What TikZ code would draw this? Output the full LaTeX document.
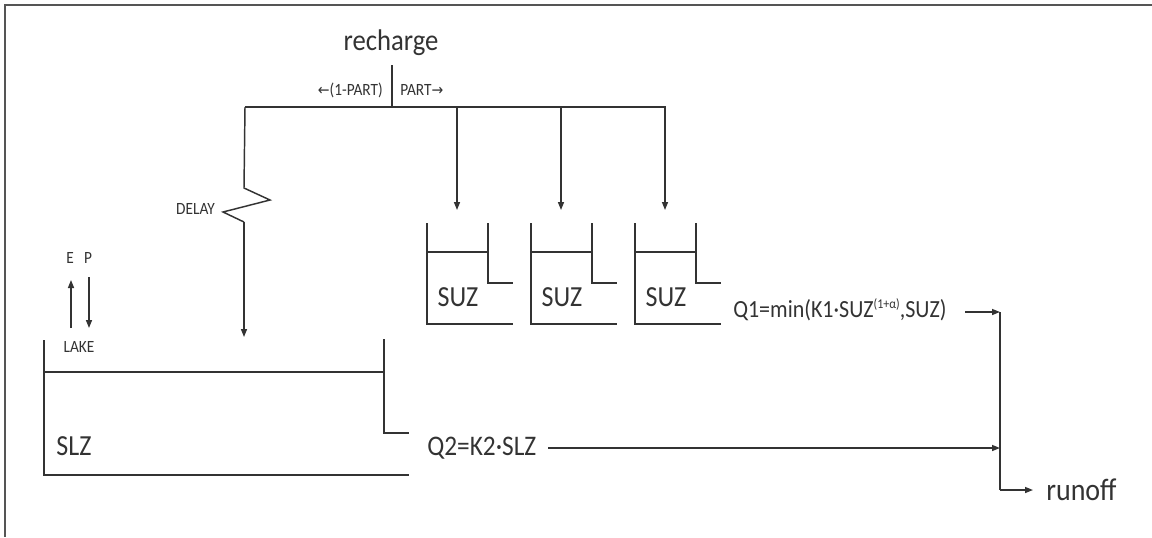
\documentclass[tikz,border=0pt]{standalone}
\usepackage{graphicx}
\usepackage{fontspec}
\setmainfont{Carlito}
\newfontfamily\arrowfont{DejaVu Sans}
\usetikzlibrary{arrows.meta}
\definecolor{ink}{HTML}{333333}
\definecolor{framec}{HTML}{555555}
\newcommand{\vstr}[1]{\scalebox{1}[1.12]{#1}}
\begin{document}
\begin{tikzpicture}[x=0.75pt,y=-0.75pt,
  line/.style={draw=ink,line width=1.1pt},
  arr/.style={line,-{Triangle[length=6pt,width=4.5pt]}},
  txt/.style={text=ink,inner sep=0pt},
  big/.style={txt,font=\fontsize{19.5}{21}\selectfont},
  mid/.style={txt,font=\fontsize{16.5}{18}\selectfont},
  small/.style={txt,font=\fontsize{11.5}{12}\selectfont}]
\useasboundingbox (0,0) rectangle (1152,537);
\draw[draw=framec,line width=1.5pt] (1152,5) -- (5,5) -- (5,537);

% recharge and split
\node[big,font=\fontsize{20}{22}\selectfont] (rech) at (391,43) {\vstr{recharge}};
\coordinate (rs) at (392,65);
\coordinate (rj) at (392,107);
\coordinate (lj) at (245,107);
\coordinate (ej) at (666,107);
\draw[line] (rs) -- (rj);
\draw[line] (lj) -- (ej);
\node[small,anchor=east] (lpart) at (383,90) {\vstr{{\arrowfont\fontsize{10.5}{11}\selectfont ←}(1-PART)}};
\node[small,anchor=west] (rpart) at (400,90) {\vstr{PART{\arrowfont\fontsize{10.5}{11}\selectfont →}}};

% delay branch
\coordinate (z1) at (244,188);
\coordinate (z2) at (270,200);
\coordinate (z3) at (223,212);
\coordinate (z4) at (244,222);
\coordinate (dend) at (244,337);
\draw[line] (lj) -- (z1) -- (z2) -- (z3) -- (z4);
\draw[arr] (z4) -- (dend);
\node[small,anchor=east] (delay) at (215,209) {\vstr{DELAY}};

% SUZ tanks
\foreach \i/\L in {1/427,2/531,3/635}{
  \coordinate (in\i) at (\L+30,107);
  \coordinate (tt\i) at (\L+30,210);
  \draw[arr] (in\i) -- (tt\i);
  \draw[line] (\L,223) -- (\L,324) -- (\L+86,324);
  \draw[line] (\L,252) -- (\L+61,252);
  \draw[line] (\L+61,223) -- (\L+61,283) -- (\L+86,283);
  \node[big] (suz\i) at (\L+31,297) {\vstr{SUZ}};
}

% Q1
\node[mid,anchor=west] (q1) at (733,310) {\vstr{Q1=min(K1·SUZ\raisebox{0.75ex}{\fontsize{9}{10}\selectfont(1+α)},SUZ)}};
\coordinate (q1s) at (965,312);
\coordinate (j1) at (1000,312);
\coordinate (j2) at (1000,448);
\coordinate (j3) at (1000,490);
\coordinate (rt) at (1033,490);
\draw[arr] (q1s) -- (j1);
\draw[line] (j1) -- (j3);
\draw[arr] (j3) -- (rt);
\node[big,font=\fontsize{21}{23}\selectfont,anchor=west] (runoff) at (1046,490) {\vstr{runoff}};

% lake / SLZ
\node[small] (E) at (70,258) {\vstr{E}};
\node[small] (P) at (88,258) {\vstr{P}};
\coordinate (eb) at (71,328);
\coordinate (et) at (71,280);
\coordinate (pt) at (89,277);
\coordinate (pb) at (89,328);
\draw[arr] (eb) -- (et);
\draw[arr] (pt) -- (pb);
\node[small] (lake) at (79,347) {\vstr{LAKE}};
\draw[line] (44,340) -- (44,475) -- (409,475);
\draw[line] (44,372) -- (384,372);
\draw[line] (384,339) -- (384,433) -- (409,433);
\node[big] (slz) at (74,446) {\vstr{SLZ}};

% Q2
\node[big,font=\fontsize{19}{21}\selectfont,anchor=west] (q2) at (427,448) {\vstr{Q2=K2·SLZ}};
\coordinate (q2s) at (548,448);
\draw[arr] (q2s) -- (j2);
\end{tikzpicture}
\end{document}
